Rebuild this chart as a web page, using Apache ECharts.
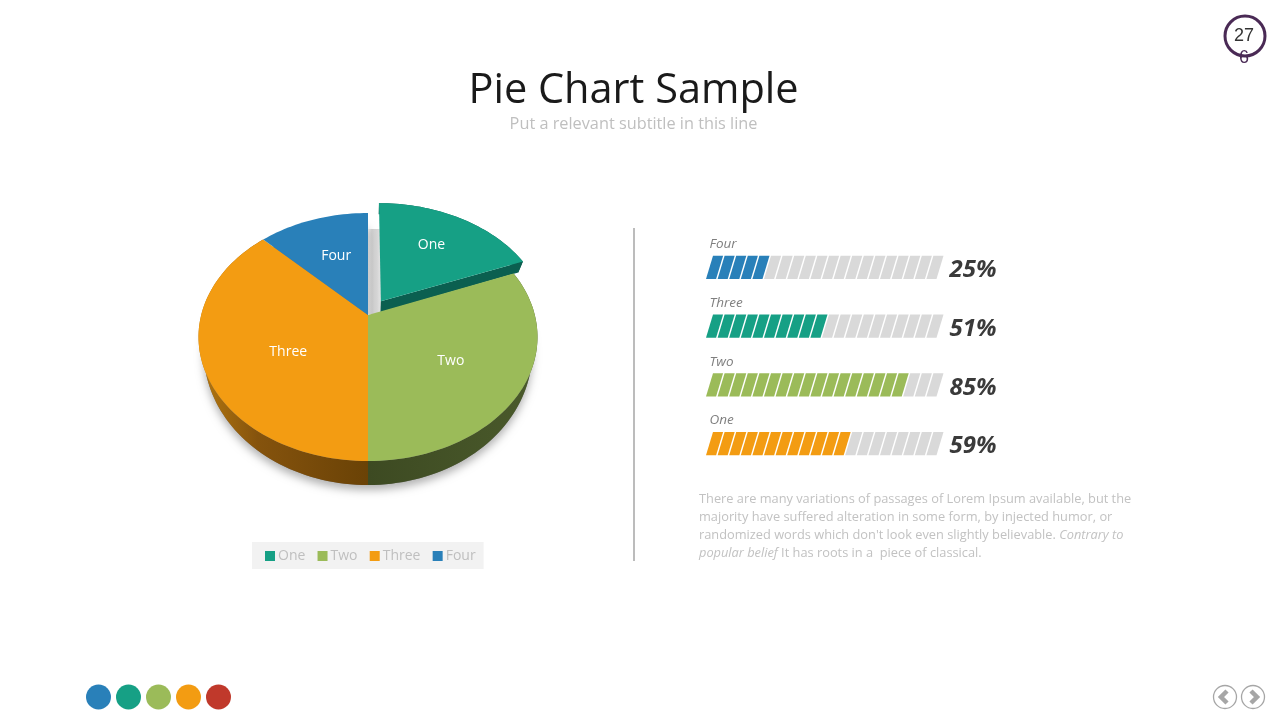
<!DOCTYPE html>
<html>
<head>
<meta charset="utf-8">
<style>html,body{margin:0;padding:0;background:#fff}#chart{width:1280px;height:720px}</style>
<script src="https://cdn.jsdelivr.net/npm/echarts@6/dist/echarts.min.js"></script>
</head>
<body>
<div id="chart"></div>
<script>
// Slice shares of the exploded pie
const pieCategories = ['One', 'Two', 'Three', 'Four'];
const pieValues = [19, 31, 37.5, 12.5];
const pieColors = ['#16a085', '#9bbb59', '#f39c12', '#2980b9'];

// Progress rows
const barCategories = ['Four', 'Three', 'Two', 'One'];
const barValues = [25, 51, 85, 59];
const barColors = ['#2980b9', '#16a085', '#9bbb59', '#f39c12'];

const paletteDots = ['#2980b9', '#16a085', '#9bbb59', '#f39c12', '#c0392b'];

const FONT = '"Open Sans", sans-serif';
const LinearGradient = echarts.graphic.LinearGradient;

// Tilted disc: a point (u, v) of the unit disc projected with perspective
const DISC = { cx: 368, cy: 315, rx: 166.8, ry: 120.1, k: 0.1774 };
const EXPLODE = 0.14;
const LOWER_FACE_SCALE = 0.97;
const total = pieValues.reduce((a, b) => a + b, 0);

function project(u, v, lower) {
  const w = 1 + DISC.k * v;
  const drop = lower ? (v < 0 ? 11 - 13 * v : 11) : 0;
  const sx = lower ? LOWER_FACE_SCALE : 1;
  return [DISC.cx + DISC.rx * sx * u / w, DISC.cy - DISC.ry * v / w + drop];
}

function arcPoints(a0, a1, ox, oy, lower) {
  const pts = [];
  const n = Math.max(2, Math.ceil((a1 - a0) / 0.03));
  for (let i = 0; i <= n; i++) {
    const a = a0 + (a1 - a0) * i / n;
    pts.push(project(ox + Math.sin(a), oy + Math.cos(a), lower));
  }
  return pts;
}

const sideFills = [
  '#0b5f50',
  new LinearGradient(368, 0, 537, 0, [{ offset: 0, color: '#3d4a22' }, { offset: 1, color: '#4a5a2b' }], true),
  new LinearGradient(198, 0, 368, 0, [{ offset: 0, color: '#b5780f' }, { offset: 0.35, color: '#85530d' }, { offset: 1, color: '#6a4206' }], true),
  '#1c5a82'
];

// Label placement within each slice
const labelRadius = [0.56, 0.56, 0.5, 0.58];
const labelNudge = [[4, -7], [1, 6], [0, 13], [2, 0]];

function renderSlice(params, api) {
  const idx = params.seriesIndex - 1;
  const start = api.value(0) / total * 2 * Math.PI;
  const sweep = api.value(1) / total * 2 * Math.PI;
  const end = start + sweep;
  const mid = start + sweep / 2;
  const exploded = api.value(2) === 1;
  const ox = exploded ? EXPLODE * Math.sin(mid) : 0;
  const oy = exploded ? EXPLODE * Math.cos(mid) : 0;

  const topArc = arcPoints(start, end, ox, oy, false);
  const lowArc = arcPoints(start, end, ox, oy, true);
  const apex = project(ox, oy, false);
  const apexLow = project(ox, oy, true);
  const children = [];

  // Rim band, skipped for slices that face entirely away from the viewer
  if (exploded || Math.cos(start) < 0 || Math.cos(end) < 0) {
    children.push({
      type: 'polygon',
      shape: { points: topArc.concat(lowArc.slice().reverse()) },
      style: { fill: sideFills[idx] }
    });
  }
  // Cut face, only visible on the pulled-out slice
  if (exploded) {
    children.push({
      type: 'polygon',
      shape: { points: [apex, topArc[topArc.length - 1], lowArc[lowArc.length - 1], apexLow] },
      style: { fill: sideFills[idx] }
    });
  }
  // Top face
  children.push({
    type: 'polygon',
    shape: { points: [apex].concat(topArc) },
    style: { fill: pieColors[idx] }
  });
  // Slice name
  const r = labelRadius[idx];
  const labelAt = project(ox + r * Math.sin(mid), oy + r * Math.cos(mid), false);
  children.push({
    type: 'text',
    style: {
      x: labelAt[0] + labelNudge[idx][0], y: labelAt[1] + labelNudge[idx][1], text: pieCategories[idx],
      fill: '#fff', font: '14px ' + FONT, align: 'center', verticalAlign: 'middle'
    }
  });
  return { type: 'group', children };
}

// Soft contact shadow beneath the disc, leaving the pulled-out wedge open
function renderPieShadow() {
  const wedge = pieValues[0] / total * 2 * Math.PI;
  return {
    type: 'polygon',
    shape: { points: [project(0, 0, true)].concat(arcPoints(wedge, 2 * Math.PI, 0, 0, true)) },
    style: { fill: '#777', shadowBlur: 8, shadowOffsetY: 5, shadowColor: 'rgba(0,0,0,0.3)' }
  };
}

// Progress row: a strip of slanted cells on the 0-100 scale, lit up to the value
const CELL_STEP = 5;
function renderRow(params, api) {
  const row = api.value(1);
  const color = barColors[row];
  const lit = Math.round(api.value(0) / CELL_STEP);
  const h = api.size([0, 1])[1] * 0.392;
  const cy = api.coord([0, row])[1] + 1;
  const skew = 7;
  const children = [];
  for (let i = 0; i * CELL_STEP < 100; i++) {
    const x0 = api.coord([i * CELL_STEP, row])[0];
    const x1 = api.coord([(i + 1) * CELL_STEP, row])[0] - 1.5;
    children.push({
      type: 'polygon',
      shape: { points: [[x0, cy + h / 2], [x0 + skew, cy - h / 2], [x1 + skew, cy - h / 2], [x1, cy + h / 2]] },
      style: { fill: i < lit ? color : '#d9d9d9' }
    });
  }
  const x100 = api.coord([100, row])[0];
  const x0 = api.coord([0, row])[0];
  children.push({
    type: 'text',
    style: {
      x: x0 + 3.5, y: cy - 23, text: barCategories[row], fill: '#7f7f7f',
      font: 'italic 13.5px ' + FONT, align: 'left', verticalAlign: 'middle'
    }
  });
  children.push({
    type: 'text',
    style: {
      x: x100 + 11.5, y: cy + 3, text: api.value(0) + '%', fill: '#3a3a3a',
      font: 'italic bold 24px ' + FONT, align: 'left', verticalAlign: 'middle'
    }
  });
  return { type: 'group', children };
}

// Pie data rows: start, share, pulled-out flag
let running = 0;
const pieSeries = pieCategories.map((name, i) => {
  const row = [running, pieValues[i], i === 0 ? 1 : 0];
  running += pieValues[i];
  return {
    type: 'custom', name, coordinateSystem: 'none', silent: true,
    itemStyle: { color: pieColors[i] },
    renderItem: renderSlice,
    data: [row]
  };
});

const paragraph = [
  "There are many variations of passages of Lorem Ipsum available, but the",
  "majority have suffered alteration in some form, by injected humor, or",
  "randomized words which don't look even slightly believable. {i|Contrary to}",
  "{i|popular belief} It has roots in a  piece of classical."
].join('\n');

const chevron = (cx, cy, dir) => ({
  type: 'polyline',
  shape: { points: [[cx - 3 * dir, cy - 6], [cx + 3 * dir, cy], [cx - 3 * dir, cy + 6]] },
  style: { stroke: '#a6a6a6', lineWidth: 4.5, fill: 'none' }
});

const option = {
  animation: false,
  backgroundColor: '#fff',
  legend: {
    data: pieCategories, left: 252, top: 542, selectedMode: false,
    backgroundColor: '#f2f2f2', padding: [7, 8, 6, 13], borderRadius: 0,
    itemWidth: 10, itemHeight: 10, itemGap: 12.2, icon: 'rect',
    textStyle: { fontFamily: FONT, fontSize: 14, color: '#bfbfbf', padding: [0, 0, 0, -2] }
  },
  grid: { left: 706, width: 232, top: 237, height: 235 },
  xAxis: { type: 'value', min: 0, max: 100, show: false },
  yAxis: { type: 'category', data: barCategories, inverse: true, show: false },
  series: [
    { type: 'custom', name: 'disc shadow', coordinateSystem: 'none', silent: true, renderItem: renderPieShadow, data: [[0]] }
  ].concat(pieSeries, [
    {
      type: 'custom', name: 'progress', coordinateSystem: 'cartesian2d', silent: true,
      renderItem: renderRow, encode: { x: 0, y: 1 },
      data: barValues.map((v, i) => [v, i])
    }
  ]),
  graphic: [
    { type: 'text', x: 633.5, y: 91, style: { text: 'Pie Chart Sample', font: '41.5px ' + FONT, fill: '#1a1a1a', align: 'center', verticalAlign: 'middle' } },
    { type: 'text', x: 633.5, y: 124, style: { text: 'Put a relevant subtitle in this line', font: '16.3px ' + FONT, fill: '#bfbfbf', align: 'center', verticalAlign: 'middle' } },
    // Shadow cast by the pulled-out slice into the gap
    {
      type: 'rect', shape: { x: 368, y: 229, width: 13, height: 85 }, z: 1,
      style: { fill: new LinearGradient(0, 0, 1, 0, [{ offset: 0, color: '#f2f2f2' }, { offset: 0.3, color: '#d2d2d2' }, { offset: 0.7, color: '#d6d6d6' }, { offset: 1, color: '#e4e4e4' }]) }
    },
    { type: 'line', shape: { x1: 634, y1: 228, x2: 634, y2: 561 }, style: { stroke: '#a6a6a6', lineWidth: 1.5 } },
    {
      type: 'text', x: 699, y: 491,
      style: {
        text: paragraph, font: '12.8px ' + FONT, fill: '#c2c2c2', lineHeight: 17.7,
        rich: { i: { fontStyle: 'italic', fontFamily: FONT, fontSize: 12.8, fill: '#c2c2c2', lineHeight: 17.7 } }
      }
    },
    // Page badge
    { type: 'circle', shape: { cx: 1245, cy: 36, r: 20 }, style: { fill: '#fff', stroke: '#4a2a55', lineWidth: 3 } },
    { type: 'text', x: 1244, y: 36, style: { text: '27', font: '18px "Liberation Sans"', fill: '#333', align: 'center', verticalAlign: 'middle' } },
    { type: 'text', x: 1244, y: 58, style: { text: '6', font: '18px "Liberation Sans"', fill: '#4a2a55', align: 'center', verticalAlign: 'middle' } },
    // Palette dots
    ...paletteDots.map((c, i) => ({ type: 'circle', shape: { cx: 98.5 + i * 30, cy: 697, r: 12.5 }, style: { fill: c } })),
    // Navigation buttons
    { type: 'circle', shape: { cx: 1225, cy: 697, r: 11.5 }, style: { fill: '#fff', stroke: '#a6a6a6', lineWidth: 1.3 } },
    { type: 'circle', shape: { cx: 1253, cy: 697, r: 11.5 }, style: { fill: '#fff', stroke: '#a6a6a6', lineWidth: 1.3 } },
    chevron(1224, 697, -1),
    chevron(1254, 697, 1)
  ]
};

echarts.init(document.getElementById('chart'), null, { renderer: 'canvas' }).setOption(option);
</script>
</body>
</html>
